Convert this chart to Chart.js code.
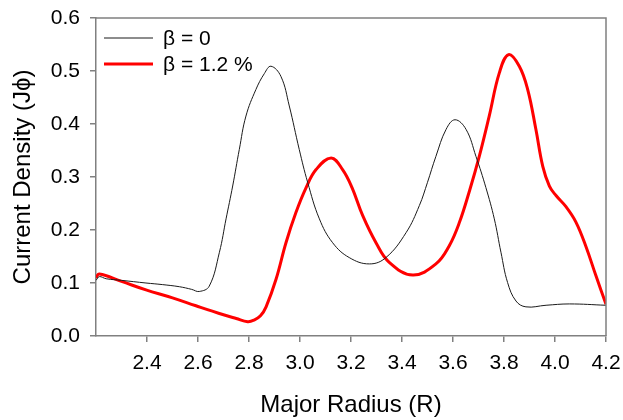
<!DOCTYPE html>
<html>
<head>
<meta charset="utf-8">
<script src="https://cdn.jsdelivr.net/npm/chart.js@4"></script>
<style>
  html, body { margin: 0; padding: 0; background: #fff; }
  #wrap { width: 623px; height: 420px; }
</style>
</head>
<body>
<div id="wrap"><canvas id="chart"></canvas></div>
<script>
// beta = 0 curve
const beta0X = [2.2, 2.213, 2.24, 2.3, 2.396, 2.46, 2.527, 2.575, 2.605, 2.644, 2.684, 2.71, 2.736, 2.762, 2.788, 2.827, 2.86, 2.886, 2.925, 2.958, 2.997, 3.03, 3.076, 3.128, 3.193, 3.272, 3.337, 3.416, 3.468, 3.5, 3.533, 3.573, 3.608, 3.651, 3.69, 3.729, 3.762, 3.788, 3.814, 3.847, 3.886, 3.965, 4.056, 4.2];
const beta0Y = [0.105, 0.112, 0.108, 0.105, 0.1, 0.097, 0.093, 0.088, 0.084, 0.094, 0.158, 0.221, 0.283, 0.352, 0.415, 0.465, 0.495, 0.509, 0.49, 0.434, 0.352, 0.29, 0.221, 0.176, 0.148, 0.136, 0.148, 0.195, 0.246, 0.29, 0.339, 0.39, 0.408, 0.39, 0.339, 0.28, 0.221, 0.158, 0.101, 0.066, 0.055, 0.058, 0.0605, 0.058];
// beta = 1.2 % curve
const beta12X = [2.2, 2.213, 2.3, 2.396, 2.5, 2.592, 2.7, 2.75, 2.795, 2.82, 2.845, 2.867, 2.906, 2.945, 2.984, 3.024, 3.063, 3.122, 3.167, 3.204, 3.246, 3.298, 3.35, 3.442, 3.533, 3.585, 3.625, 3.666, 3.703, 3.742, 3.782, 3.818, 3.86, 3.893, 3.925, 3.952, 3.978, 4.004, 4.043, 4.082, 4.122, 4.161, 4.2];
const beta12Y = [0.11, 0.117, 0.103, 0.087, 0.072, 0.057, 0.04, 0.033, 0.027, 0.03, 0.038, 0.055, 0.107, 0.176, 0.233, 0.28, 0.314, 0.336, 0.314, 0.28, 0.227, 0.176, 0.139, 0.115, 0.136, 0.17, 0.214, 0.276, 0.339, 0.415, 0.497, 0.531, 0.509, 0.465, 0.39, 0.32, 0.283, 0.265, 0.244, 0.215, 0.168, 0.113, 0.06];
const xTicks = [2.4, 2.6, 2.8, 3.0, 3.2, 3.4, 3.6, 3.8, 4.0, 4.2];
const yTicks = [0, 0.1, 0.2, 0.3, 0.4, 0.5, 0.6];
const seriesLabels = ["\u03b2 = 0", "\u03b2 = 1.2 %"];

const toPoints = (xs, ys) => xs.map((x, i) => ({ x: x, y: ys[i] }));

const frameColor = "#808080";
const font = "'Liberation Sans', Arial, sans-serif";

// box around plot + legend inside top-left
const boxAndLegend = {
  id: "boxAndLegend",
  afterDraw(chart) {
    const { ctx, chartArea: a } = chart;
    ctx.save();
    ctx.strokeStyle = frameColor;
    ctx.lineWidth = 1.5;
    ctx.beginPath();
    ctx.moveTo(a.left, a.top);
    ctx.lineTo(a.right, a.top);
    ctx.lineTo(a.right, a.bottom);
    ctx.stroke();

    const items = chart.data.datasets;
    ctx.font = "21px " + font;
    ctx.textBaseline = "middle";
    items.forEach((ds, i) => {
      const y = a.top + 20 + i * 26;
      ctx.strokeStyle = ds.borderColor;
      ctx.lineWidth = ds.borderWidth;
      ctx.beginPath();
      ctx.moveTo(a.left + 8, y);
      ctx.lineTo(a.left + 57, y);
      ctx.stroke();
      ctx.fillStyle = "#000";
      ctx.fillText(ds.label, a.left + 67, y + 1);
    });
    ctx.restore();
  }
};

new Chart(document.getElementById("chart"), {
  type: "line",
  data: {
    datasets: [
      {
        label: seriesLabels[0],
        data: toPoints(beta0X, beta0Y),
        borderColor: "#1a1a1a",
        borderWidth: 1,
        pointRadius: 0,
        tension: 0.4,
        fill: false,
      },
      {
        label: seriesLabels[1],
        data: toPoints(beta12X, beta12Y),
        borderColor: "#ff0000",
        borderWidth: 3,
        pointRadius: 0,
        tension: 0.4,
        fill: false,
      },
    ],
  },
  options: {
    responsive: true,
    maintainAspectRatio: false,
    animation: false,
    layout: { padding: { top: 18, right: 17, left: 0, bottom: 0 } },
    plugins: {
      legend: { display: false },
      tooltip: { enabled: false },
    },
    scales: {
      x: {
        type: "linear",
        min: 2.2,
        max: 4.2,
        afterBuildTicks: (scale) => {
          scale.ticks = xTicks.map((v) => ({ value: v }));
        },
        afterFit: (scale) => {
          scale.height = 84;
          scale.paddingLeft = 0;
          scale.paddingRight = 0;
        },
        grid: { drawOnChartArea: false, tickLength: 6, color: frameColor, lineWidth: 1.5 },
        border: { color: frameColor, width: 1.5 },
        ticks: {
          color: "#000",
          font: { size: 21, family: font },
          padding: 9,
          maxRotation: 0,
          callback: (v) => v.toFixed(1),
        },
        title: {
          display: true,
          text: "Major Radius (R)",
          color: "#000",
          font: { size: 24, family: font },
          padding: { top: 4, bottom: 0 },
        },
      },
      y: {
        min: 0,
        max: 0.6,
        afterBuildTicks: (scale) => {
          scale.ticks = yTicks.map((v) => ({ value: v }));
        },
        afterFit: (scale) => {
          scale.width = 96;
          scale.paddingTop = 0;
          scale.paddingBottom = 0;
        },
        grid: { drawOnChartArea: false, tickLength: 6, color: frameColor, lineWidth: 1.5 },
        border: { color: frameColor, width: 1.5 },
        ticks: {
          color: "#000",
          font: { size: 21, family: font },
          padding: 10,
          callback: (v) => v.toFixed(1),
        },
        title: {
          display: true,
          text: "Current Density (J\u03d5)",
          color: "#000",
          font: { size: 24, family: font },
          padding: { top: 9, bottom: 0 },
        },
      },
    },
  },
  plugins: [boxAndLegend],
});
</script>
</body>
</html>
